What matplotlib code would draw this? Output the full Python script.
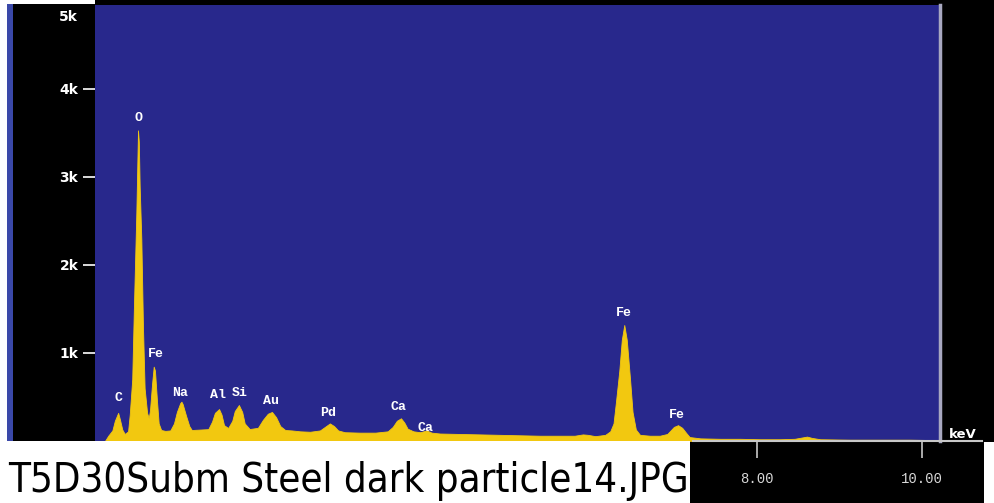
import matplotlib
matplotlib.use("Agg")
import matplotlib.pyplot as plt
from matplotlib.patches import Rectangle
from matplotlib import font_manager

# ---- data ----
energy_kev = [0.12, 0.16, 0.21, 0.24, 0.28, 0.30, 0.33, 0.36, 0.40,
              0.42, 0.45, 0.47, 0.50, 0.52, 0.53, 0.54, 0.56, 0.58, 0.60, 0.63, 0.65,
              0.665, 0.69, 0.71, 0.725, 0.75, 0.77, 0.80,
              0.85, 0.91,
              0.955, 0.99, 1.03, 1.045, 1.06, 1.10, 1.14, 1.17,
              1.27, 1.37,
              1.415, 1.45, 1.50, 1.53, 1.56, 1.61,
              1.66, 1.69, 1.74, 1.78, 1.81, 1.87,
              1.97, 2.03, 2.09, 2.14, 2.19, 2.24, 2.30, 2.38, 2.48, 2.60,
              2.72, 2.78, 2.84, 2.89, 2.94, 3.02,
              3.20, 3.39, 3.54,
              3.60, 3.65, 3.70, 3.74, 3.78, 3.85, 3.93, 4.01, 4.07, 4.17,
              4.41, 4.66, 4.90, 5.14, 5.38, 5.62, 5.80, 5.90, 5.96, 6.05, 6.17,
              6.23, 6.27, 6.30, 6.34, 6.37, 6.40, 6.43, 6.47, 6.50, 6.54, 6.59,
              6.71, 6.83, 6.92,
              6.95, 7.00, 7.05, 7.10, 7.15, 7.19,
              7.32, 7.56, 7.80, 8.04, 8.28, 8.46, 8.55, 8.61, 8.67, 8.77,
              9.13, 9.49, 9.85, 10.19]
counts = [0, 60, 120, 230, 320, 250, 130, 80, 110,
          300, 700, 1500, 2600, 3530, 3400, 2900, 2300, 1300, 600, 320, 260,
          350, 650, 845, 800, 450, 200, 125,
          115, 120,
          200, 330, 430, 447, 420, 290, 170, 125,
          130, 135,
          220, 320, 363, 300, 180, 148,
          230, 340, 409, 330, 200, 136,
          150, 240, 310, 330, 270, 170, 125, 120, 110, 105,
          120, 160, 200, 170, 120, 100,
          95, 95, 110,
          160, 230, 258, 210, 140, 110, 100, 120, 95, 85,
          80, 75, 70, 65, 60, 60, 60, 75, 70, 55, 70,
          110, 200, 450, 800, 1150, 1318, 1150, 700, 330, 130, 70,
          60, 60, 80,
          110, 160, 180, 150, 90, 45,
          30, 25, 25, 20, 20, 25, 40, 50, 35, 20,
          15, 15, 15, 10]

peak_labels = ["C", "O", "Fe", "Na", "Al", "Si", "Au", "Pd", "Ca", "Ca", "Fe", "Fe"]
label_kev = [0.28, 0.53, 0.74, 1.03, 1.49, 1.75, 2.13, 2.82, 3.67, 4.00, 6.40, 7.04]
label_counts = [490, 3670, 990, 545, 520, 545, 455, 320, 385, 145, 1450, 295]

y_ticks = [1000, 2000, 3000, 4000]
y_tick_labels = ["1k", "2k", "3k", "4k"]
x_ticks = [8, 10]
x_tick_labels = ["8.00", "10.00"]
title = "T5D30Subm Steel dark particle14.JPG"

# ---- layout ----
W, H = 995, 503
PX_PER_KEV = 82.7
PX_PER_K = 88.0
BLUE = "#28288c"
YELLOW = "#f2c810"

fig = plt.figure(figsize=(W / 100, H / 100), dpi=100, facecolor="black")

ax_left, ax_right, ax_top, ax_bot = 95, 940, 5, 441
ax = fig.add_axes([ax_left / W, 1 - ax_bot / H, (ax_right - ax_left) / W, (ax_bot - ax_top) / H])
ax.set_facecolor(BLUE)
ax.set_xlim(0, (ax_right - ax_left) / PX_PER_KEV)
ax.set_ylim(0, (ax_bot - ax_top) / PX_PER_K * 1000)
ax.fill_between(energy_kev, counts, 0, color=YELLOW, lw=0.6, edgecolor=YELLOW)

for s in ["left", "top", "bottom"]:
    ax.spines[s].set_visible(False)
ax.spines["right"].set_color("#a8a8c0")
ax.spines["right"].set_linewidth(2.5)

ax.set_xticks([])
ax.set_yticks(y_ticks)
ax.set_yticklabels(y_tick_labels, fontsize=10, fontweight="bold", color="white",
                   family="DejaVu Sans")
ax.tick_params(axis="y", colors="white", length=8.5, width=1.2, pad=3.5, labelcolor="white")

ax.text(-0.0205, 0.972, "5k", transform=ax.transAxes, ha="right", va="center",
        fontsize=10, fontweight="bold", color="white", family="DejaVu Sans")

for name, xk, yc in zip(peak_labels, label_kev, label_counts):
    ax.text(xk, yc, name, ha="center", va="center", color="white", fontsize=9.5,
            fontweight="bold", family="Liberation Mono")

# energy axis in the black box below
ax2_right = 982
ax2 = fig.add_axes([ax_left / W, 1 - ax_bot / H, (ax2_right - ax_left) / W, 0.05])
ax2.patch.set_visible(False)
ax2.set_xlim(0, (ax2_right - ax_left) / PX_PER_KEV)
ax2.set_ylim(0, 1)
for s in ["left", "top", "right"]:
    ax2.spines[s].set_visible(False)
ax2.spines["bottom"].set_color("#c8c8c8")
ax2.spines["bottom"].set_linewidth(1.5)
ax2.spines["bottom"].set_bounds((693 - ax_left) / PX_PER_KEV, (ax2_right - ax_left) / PX_PER_KEV)
ax2.set_yticks([])
ax2.set_xticks(x_ticks)
ax2.set_xticklabels(x_tick_labels, fontsize=10, color="#d8d8d8", family="Liberation Mono")
ax2.tick_params(axis="x", colors="#c8c8c8", length=12, width=1.2, pad=10, labelcolor="#d8d8d8")
ax2.text((963 - ax_left) / PX_PER_KEV, 0.25, "keV", ha="center", va="center",
         color="white", fontsize=9.5, fontweight="bold", family="DejaVu Sans")

# white caption box and frame strips
fig.patches.append(Rectangle((0, 0), 690 / W, (H - 441) / H, transform=fig.transFigure,
                             facecolor="white", edgecolor="none", zorder=1))
fig.patches.append(Rectangle((984 / W, 0), 11 / W, (H - 442) / H, transform=fig.transFigure,
                             facecolor="white", edgecolor="none", zorder=1))
fig.patches.append(Rectangle((0, (H - 441) / H), 7 / W, 441 / H, transform=fig.transFigure,
                             facecolor="white", edgecolor="none", zorder=1))
fig.patches.append(Rectangle((7 / W, (H - 441) / H), 6 / W, 441 / H, transform=fig.transFigure,
                             facecolor="#3a48a8", edgecolor="none", zorder=1))
fig.patches.append(Rectangle((0, 1 - 4 / H), 95 / W, 4 / H, transform=fig.transFigure,
                             facecolor="white", edgecolor="none", zorder=1))

# caption: prefer a narrow/condensed sans font, then fit its width to the box
cond_font = None
for f in font_manager.fontManager.ttflist:
    nm = (f.name + " " + f.fname).lower()
    if f.weight in (400, "normal", "regular") and f.style == "normal" and (
            "narrow" in nm or "condensed" in nm) and "bold" not in nm and "mono" not in nm \
            and "serif" not in f.name.lower():
        if cond_font is None or "liberation" in nm or "arial" in nm:
            cond_font = f
if cond_font is not None:
    fp = font_manager.FontProperties(fname=cond_font.fname, size=35)
else:
    fp = font_manager.FontProperties(family="Liberation Sans", size=35)

cap = fig.text(8 / W, (H - 492) / H, title, ha="left", va="baseline",
               color="black", fontproperties=fp, zorder=3)
renderer = fig.canvas.get_renderer()
target_w = 680
for _ in range(4):
    w = cap.get_window_extent(renderer).width
    fp.set_size(fp.get_size() * target_w / w)
    cap.set_fontproperties(fp)

fig.savefig("out.png", dpi=100, facecolor="black")
